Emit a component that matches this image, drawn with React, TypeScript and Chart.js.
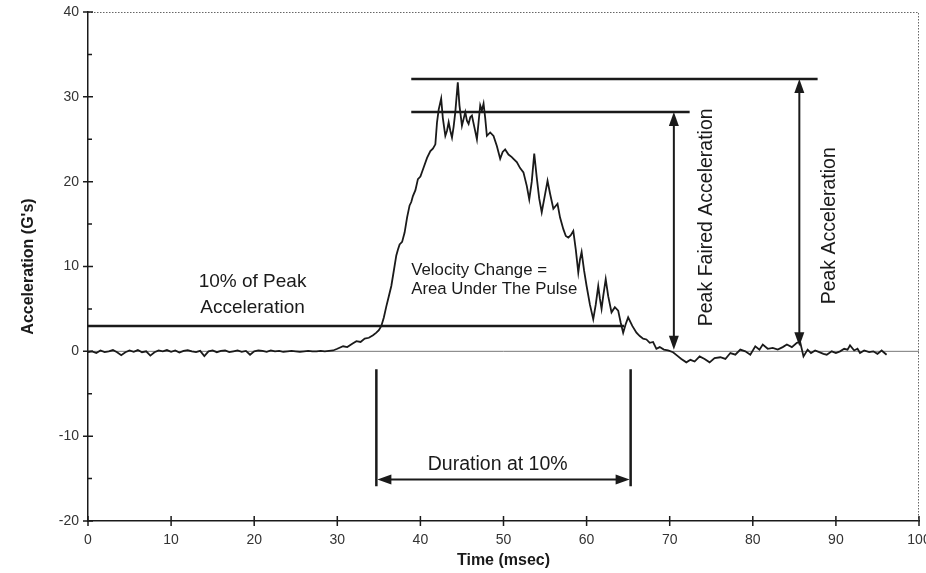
import React, { useEffect, useRef } from "react";
import { Chart, registerables } from "chart.js";

Chart.register(...registerables);

// ---- data (time in msec, acceleration in G's) ----
const timeMs: number[] = [
  0, 0.5, 1, 1.5, 2, 2.5, 3, 3.5, 4, 4.5, 5, 5.5, 6, 6.5, 7, 7.5, 8, 8.5, 9, 9.5,
  10, 10.5, 11, 11.5, 12, 12.5, 13, 13.5, 14, 14.5, 15, 15.5, 16, 16.5, 17, 17.5, 18, 18.5, 19, 19.5,
  20, 20.5, 21, 21.5, 22, 22.5, 23, 23.5, 24, 24.5, 25, 25.5, 26, 26.5, 27, 27.5, 28, 28.5, 29, 29.5,
  30.0, 30.7, 31.2, 31.8, 32.3, 32.8, 33.3, 33.8, 34.3, 34.7, 35.0, 35.3, 35.6, 35.9, 36.2, 36.5, 36.8,
  37.1, 37.3, 37.5, 37.8, 38.1, 38.4, 38.7, 38.9, 39.1, 39.4, 39.7, 40.0, 40.4, 40.8, 41.2, 41.5, 41.8,
  42.0, 42.2, 42.5, 42.7, 43.0, 43.2, 43.4, 43.6, 43.8, 44.0, 44.2, 44.5, 44.7, 45.0, 45.2, 45.4, 45.6,
  45.8, 46.0, 46.2, 46.5, 46.8, 47.0, 47.2, 47.4, 47.6, 47.8, 48.0, 48.4, 48.8, 49.2, 49.6, 49.9, 50.2,
  50.6, 51.0, 51.2, 51.6, 52.0, 52.4, 52.8, 53.1, 53.4, 53.7, 54.0, 54.3, 54.6, 55.0, 55.3, 55.6, 56.0,
  56.5, 56.8, 57.2, 57.5, 57.8, 58.1, 58.4, 58.7, 59.0, 59.2, 59.4, 59.7, 60.0, 60.4, 60.8, 61.1, 61.4,
  61.6, 61.8, 62.0, 62.3, 62.6, 63.0, 63.4, 63.8, 64.1, 64.4, 64.7, 65.0, 65.5, 66.0, 66.4, 66.8, 67.2,
  67.6, 68.0, 68.4, 68.8, 69.3, 69.8, 70.4, 70.9, 71.4, 72.0, 72.5, 73.0, 73.6, 74.2, 74.8, 75.4, 76.1,
  76.7, 77.3, 77.9, 78.5, 79.1, 79.7, 80.3, 80.8, 81.2, 81.8, 82.4, 83.0, 83.6, 84.1, 84.7, 85.3, 85.7,
  86.1, 86.6, 87.0, 87.5, 88.0, 88.5, 88.9, 89.5, 90.0, 90.5, 91.0, 91.4, 91.7, 92.2, 92.6, 92.9, 93.4,
  94.0, 94.5, 95.0, 95.5, 96.1,
];

const accelG: number[] = [
  -0.1, 0.0, -0.2, 0.1, -0.1, 0.0, 0.15, -0.1, -0.45, -0.1, 0.1, -0.05, 0.15, -0.1, 0.0, -0.5, -0.1, 0.1, 0.0, 0.15,
  -0.05, 0.1, -0.15, 0.05, 0.15, 0.0, -0.1, 0.05, -0.55, 0.0, 0.1, -0.1, 0.05, 0.1, -0.1, 0.0, 0.1, -0.05, 0.05, -0.4,
  0.0, 0.1, 0.05, -0.05, 0.1, 0.0, 0.05, -0.05, 0.0, 0.05, 0.0, -0.05, 0.0, 0.05, 0.0, 0.0, 0.05, 0.0, 0.05, 0.1,
  0.3, 0.6, 0.5, 0.9, 1.2, 1.1, 1.5, 1.6, 1.9, 2.2, 2.5, 3.0, 4.0, 5.3, 6.5, 7.7, 9.5,
  11.3, 12.0, 12.6, 12.9, 14.0, 15.8, 17.2, 17.6, 18.3, 19.0, 20.3, 20.6, 21.7, 22.8, 23.6, 23.9, 24.4,
  27.0, 28.5, 29.8, 27.5, 25.4, 26.0, 27.0, 26.0, 25.2, 26.5, 28.2, 31.7, 29.0, 26.6, 27.4, 28.2, 27.2,
  26.8, 27.6, 27.8, 26.4, 25.0, 27.0, 29.0, 28.4, 29.2, 27.5, 25.4, 25.8, 25.4, 24.2, 22.7, 23.5, 23.8,
  23.2, 22.9, 22.7, 22.3, 21.6, 21.1, 19.5, 17.9, 20.0, 23.3, 20.5, 18.0, 16.4, 18.5, 20.1, 18.6, 16.8,
  17.4, 15.8, 14.4, 13.6, 13.4, 13.7, 14.2, 12.0, 9.3, 10.8, 11.7, 9.5, 7.7, 5.5, 3.8, 5.5, 7.7,
  6.2, 5.0, 6.5, 8.5, 6.5, 4.6, 5.2, 4.8, 3.4, 2.2, 3.2, 4.0, 3.0, 2.2, 1.8, 1.5, 1.4,
  1.0, 1.1, 0.3, 0.5, 0.2, 0.1, -0.1, -0.5, -0.9, -1.3, -1.0, -1.2, -0.6, -0.9, -1.3, -0.8, -0.7,
  -0.9, -0.2, -0.4, 0.2, 0.0, -0.4, 0.6, 0.2, 0.8, 0.3, 0.4, 0.2, 0.5, 0.8, 0.5, 1.0, 1.1,
  -0.6, 0.2, -0.2, 0.1, -0.1, -0.3, -0.4, 0.0, -0.2, 0.0, 0.3, 0.2, 0.7, 0.1, 0.3, -0.2, 0.1,
  -0.1, 0.0, -0.3, 0.1, -0.4,
];

// axis ticks
const xTickValues: number[] = [0, 10, 20, 30, 40, 50, 60, 70, 80, 90, 100];
const yTickValues: number[] = [-20, -10, 0, 10, 20, 30, 40];
const yMinorTickValues: number[] = [-15, -5, 5, 15, 25, 35];

// reference levels [level, xStart, xEnd]
const tenPctLine: number[] = [3, 0, 64.5];
const peakFairedLine: number[] = [28.2, 38.9, 72.4];
const peakLine: number[] = [32.1, 38.9, 87.8];

// vertical double arrows [x, yTop, yBottom]
const peakFairedArrow: number[] = [70.5, 28.2, 0.2];
const peakArrow: number[] = [85.6, 32.1, 0.6];

// duration markers [xLeft, xRight, yTop, yBottom, yArrow]
const durationMarks: number[] = [34.7, 65.3, -2.1, -15.9, -15.1];

// annotation texts [text, x, y, align, rotated, fontSize]
const annoTexts: [string, number, number, string, boolean, number][] = [
  ["10% of Peak", 19.8, 8.15, "center", false, 19],
  ["Acceleration", 19.8, 5.1, "center", false, 19],
  ["Velocity Change =", 38.9, 9.5, "left", false, 16.8],
  ["Area Under The Pulse", 38.9, 7.25, "left", false, 16.8],
  ["Duration at 10%", 49.3, -13.3, "center", false, 19.5],
  ["Peak Faired Acceleration", 74.5, 15.8, "center", true, 19.5],
  ["Peak Acceleration", 89.2, 14.8, "center", true, 19.5],
];

const FONT = '"Liberation Sans", Arial, Helvetica, sans-serif';
const INK = "#1a1a1a";

function arrowHead(ctx: CanvasRenderingContext2D, x: number, y: number, dx: number, dy: number) {
  const len = 14;
  const half = 5;
  const px = -dy;
  const py = dx;
  ctx.beginPath();
  ctx.moveTo(x, y);
  ctx.lineTo(x - dx * len + px * half, y - dy * len + py * half);
  ctx.lineTo(x - dx * len - px * half, y - dy * len - py * half);
  ctx.closePath();
  ctx.fill();
}

const decorPlugin = {
  id: "decor",
  beforeDatasetsDraw(chart: any) {
    const { ctx, chartArea, scales } = chart;
    const ys = scales.y;
    ctx.save();
    // zero line
    ctx.strokeStyle = "#777";
    ctx.lineWidth = 1;
    const y0 = ys.getPixelForValue(0);
    ctx.beginPath();
    ctx.moveTo(chartArea.left, y0);
    ctx.lineTo(chartArea.right, y0);
    ctx.stroke();
    // dotted top & right border
    ctx.strokeStyle = "#666";
    ctx.setLineDash([1.5, 1.5]);
    ctx.beginPath();
    ctx.moveTo(chartArea.left, chartArea.top + 0.5);
    ctx.lineTo(chartArea.right - 0.5, chartArea.top + 0.5);
    ctx.lineTo(chartArea.right - 0.5, chartArea.bottom);
    ctx.stroke();
    ctx.setLineDash([]);
    ctx.restore();
  },
  afterDatasetsDraw(chart: any) {
    const { ctx, chartArea, scales } = chart;
    const xs = scales.x;
    const ys = scales.y;
    const X = (v: number) => xs.getPixelForValue(v);
    const Y = (v: number) => ys.getPixelForValue(v);
    ctx.save();
    ctx.strokeStyle = INK;
    ctx.fillStyle = INK;

    // tick marks
    ctx.lineWidth = 1.5;
    const ax = chartArea.left;
    const ay = chartArea.bottom;
    ctx.beginPath();
    yTickValues.forEach((v) => {
      ctx.moveTo(ax - 5, Y(v));
      ctx.lineTo(ax + 5, Y(v));
    });
    yMinorTickValues.forEach((v) => {
      ctx.moveTo(ax, Y(v));
      ctx.lineTo(ax + 4, Y(v));
    });
    xTickValues.forEach((v) => {
      ctx.moveTo(X(v), ay - 5);
      ctx.lineTo(X(v), ay + 5);
    });
    ctx.stroke();

    // vertical arrows
    ctx.lineWidth = 2;
    [peakFairedArrow, peakArrow].forEach(([x, yt, yb]) => {
      const px = X(x);
      const pt = Y(yt);
      const pb = Y(yb);
      ctx.beginPath();
      ctx.moveTo(px, pt + 10);
      ctx.lineTo(px, pb - 10);
      ctx.stroke();
      arrowHead(ctx, px, pt, 0, -1);
      arrowHead(ctx, px, pb, 0, 1);
    });

    // duration markers
    const [dl, dr, dt, db, da] = durationMarks;
    ctx.lineWidth = 2.5;
    ctx.beginPath();
    ctx.moveTo(X(dl), Y(dt));
    ctx.lineTo(X(dl), Y(db));
    ctx.moveTo(X(dr), Y(dt));
    ctx.lineTo(X(dr), Y(db));
    ctx.stroke();
    ctx.lineWidth = 2;
    ctx.beginPath();
    ctx.moveTo(X(dl) + 10, Y(da));
    ctx.lineTo(X(dr) - 10, Y(da));
    ctx.stroke();
    arrowHead(ctx, X(dl) + 1, Y(da), -1, 0);
    arrowHead(ctx, X(dr) - 1, Y(da), 1, 0);

    // texts
    ctx.textBaseline = "middle";
    annoTexts.forEach(([t, x, y, align, rot, size]) => {
      ctx.save();
      ctx.font = `${size}px ${FONT}`;
      ctx.translate(X(x), Y(y));
      if (rot) ctx.rotate(-Math.PI / 2);
      ctx.textAlign = align as CanvasTextAlign;
      ctx.fillText(t, 0, 0);
      ctx.restore();
    });
    ctx.restore();
  },
};

function hLine(spec: number[]) {
  const [lvl, x0, x1] = spec;
  return {
    data: [
      { x: x0, y: lvl },
      { x: x1, y: lvl },
    ],
    showLine: true,
    borderColor: INK,
    borderWidth: 2.5,
    pointRadius: 0,
  };
}

export default function App() {
  const canvasRef = useRef<HTMLCanvasElement | null>(null);

  useEffect(() => {
    document.body.style.margin = "0";
    const canvas = canvasRef.current;
    if (!canvas) return;
    const curve = timeMs.map((t, i) => ({ x: t, y: accelG[i] }));
    const chart = new Chart(canvas, {
      type: "scatter",
      data: {
        datasets: [
          {
            data: curve,
            showLine: true,
            borderColor: INK,
            borderWidth: 1.8,
            pointRadius: 0,
            tension: 0,
          },
          hLine(tenPctLine),
          hLine(peakFairedLine),
          hLine(peakLine),
        ] as any,
      },
      options: {
        animation: false,
        responsive: false,
        devicePixelRatio: 1,
        layout: { padding: { top: 12, right: 7, left: 0, bottom: 0 } },
        plugins: { legend: { display: false }, tooltip: { enabled: false } },
        scales: {
          x: {
            type: "linear",
            min: 0,
            max: 100,
            afterBuildTicks: (s: any) => {
              s.ticks = xTickValues.map((v) => ({ value: v }));
            },
            afterFit: (s: any) => {
              s.height = 52;
              s.paddingLeft = 0;
              s.paddingRight = 0;
            },
            ticks: {
              color: "#333",
              font: { family: FONT, size: 14 },
              padding: 6,
              maxRotation: 0,
              autoSkip: false,
            },
            grid: { display: true, color: "rgba(0,0,0,0)", drawOnChartArea: false, tickLength: 5 },
            border: { display: true, color: INK, width: 1.5 },
            title: {
              display: true,
              text: "Time (msec)",
              color: INK,
              font: { family: FONT, size: 16, weight: "bold" },
              padding: { top: 0, bottom: 3 },
            },
          },
          y: {
            type: "linear",
            min: -20,
            max: 40,
            afterBuildTicks: (s: any) => {
              s.ticks = yTickValues.map((v) => ({ value: v }));
            },
            afterFit: (s: any) => {
              s.width = 88;
              s.paddingTop = 0;
              s.paddingBottom = 0;
            },
            ticks: {
              color: "#333",
              font: { family: FONT, size: 14 },
              padding: 4,
              autoSkip: false,
            },
            grid: { display: true, color: "rgba(0,0,0,0)", drawOnChartArea: false, tickLength: 5 },
            border: { display: true, color: INK, width: 1.5 },
            title: {
              display: true,
              text: "Acceleration (G's)",
              color: INK,
              font: { family: FONT, size: 16, weight: "bold" },
              padding: { top: 19, bottom: 0 },
            },
          },
        },
      },
      plugins: [decorPlugin],
    });
    return () => chart.destroy();
  }, []);

  return (
    <div style={{ width: 926, height: 573, background: "#fff" }}>
      <canvas ref={canvasRef} width={926} height={573} style={{ width: 926, height: 573, display: "block" }} />
    </div>
  );
}
